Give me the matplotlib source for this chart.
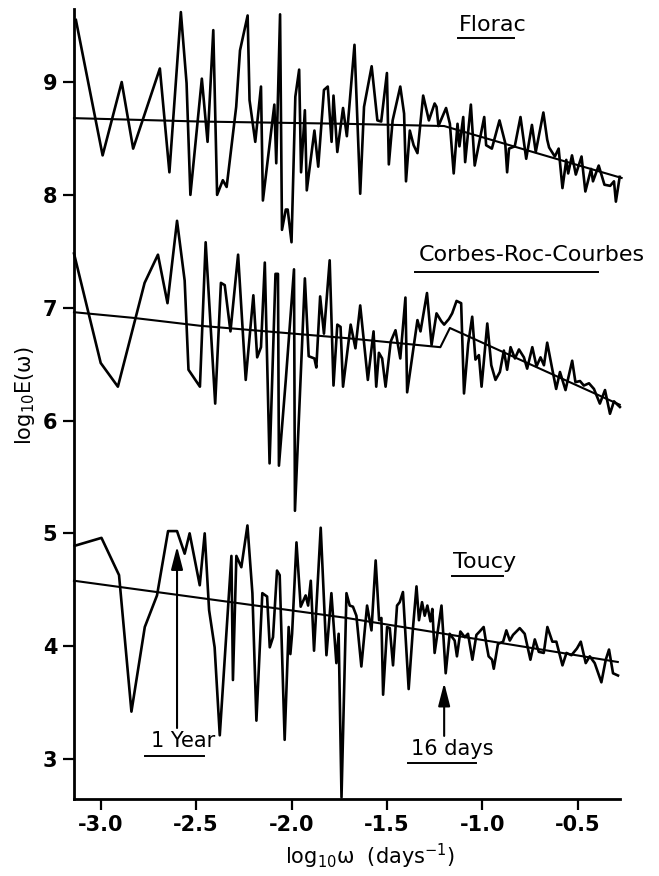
import matplotlib
matplotlib.use("Agg")
import matplotlib.pyplot as plt
from matplotlib.lines import Line2D

plt.rcParams['axes.unicode_minus'] = False
plt.rcParams['font.family'] = 'DejaVu Sans'

# --- data (log10 frequency, log10 energy) ---
florac_x = [-3.13, -2.99, -2.89, -2.83, -2.69, -2.64, -2.58, -2.55, -2.53, -2.47,
            -2.44, -2.41, -2.39, -2.36, -2.34, -2.29, -2.27, -2.23, -2.22, -2.19,
            -2.16, -2.15, -2.09, -2.08, -2.06, -2.05, -2.03, -2.02, -2.00, -1.98,
            -1.96, -1.95, -1.93, -1.92, -1.88, -1.86, -1.83, -1.81, -1.79, -1.78,
            -1.76, -1.73, -1.71,
            -1.67, -1.64, -1.62, -1.58, -1.55, -1.53, -1.50, -1.49, -1.47, -1.43,
            -1.41, -1.40, -1.38, -1.36, -1.34, -1.31, -1.28, -1.25, -1.24, -1.23,
            -1.19, -1.17, -1.15, -1.13, -1.12, -1.10, -1.09, -1.06, -1.04, -0.99,
            -0.98, -0.95, -0.91, -0.88, -0.87, -0.86, -0.83, -0.80, -0.77, -0.74,
            -0.72, -0.68, -0.66, -0.65, -0.62, -0.60, -0.58, -0.56, -0.55, -0.53,
            -0.51, -0.48, -0.46, -0.43, -0.42, -0.39, -0.36, -0.33, -0.31, -0.30,
            -0.28]
florac_y = [9.55, 8.35, 9.00, 8.41, 9.12, 8.20, 9.62, 8.99, 8.00, 9.03,
            8.47, 9.46, 8.00, 8.13, 8.07, 8.78, 9.28, 9.59, 8.84, 8.47,
            8.96, 7.95, 8.80, 8.28, 9.60, 7.69, 7.87, 7.87, 7.58, 8.87,
            9.11, 8.20, 8.75, 8.04, 8.57, 8.25, 8.93, 8.96, 8.47, 8.88,
            8.38, 8.77, 8.52,
            9.33, 8.01, 8.78, 9.14, 8.66, 8.65, 9.08, 8.27, 8.66, 8.96,
            8.72, 8.12, 8.57, 8.44, 8.37, 8.88, 8.66, 8.81, 8.78, 8.61,
            8.77, 8.63, 8.19, 8.63, 8.43, 8.69, 8.29, 8.80, 8.26, 8.69,
            8.44, 8.41, 8.66, 8.46, 8.20, 8.41, 8.43, 8.69, 8.32, 8.62,
            8.38, 8.73, 8.49, 8.42, 8.34, 8.41, 8.06, 8.31, 8.19, 8.35,
            8.18, 8.34, 8.03, 8.23, 8.12, 8.26, 8.09, 8.08, 8.12, 7.94,
            8.16]
florac_fit_x = [-3.14, -2.48, -1.72, -1.20, -0.27]
florac_fit_y = [8.68, 8.65, 8.63, 8.61, 8.15]

corbes_x = [-3.14, -3.00, -2.91, -2.77, -2.70, -2.65, -2.60, -2.56, -2.54, -2.48,
            -2.45, -2.40, -2.37, -2.35, -2.32, -2.28, -2.24, -2.20, -2.18, -2.16,
            -2.14, -2.115, -2.084, -2.071, -2.066, -2.03, -1.987, -1.982, -1.93, -1.91,
            -1.88, -1.87, -1.85, -1.83, -1.80, -1.78, -1.76, -1.743, -1.73,
            -1.69, -1.665, -1.64, -1.60, -1.57, -1.556, -1.542, -1.525, -1.507, -1.48,
            -1.455, -1.43, -1.403, -1.394, -1.34, -1.324, -1.29, -1.266, -1.24, -1.215,
            -1.20, -1.175, -1.158, -1.135, -1.111, -1.096, -1.074, -1.053, -1.036, -1.018,
            -1.004, -0.974, -0.953, -0.931, -0.908, -0.887, -0.870, -0.852, -0.829, -0.808,
            -0.782, -0.765, -0.738, -0.716, -0.695, -0.677, -0.660, -0.634, -0.613, -0.593,
            -0.564, -0.529, -0.512, -0.488, -0.468, -0.441, -0.415, -0.384, -0.357, -0.331,
            -0.310, -0.279]
corbes_y = [7.48, 6.51, 6.30, 7.22, 7.47, 7.04, 7.77, 7.24, 6.45, 6.30,
            7.58, 6.15, 7.22, 7.20, 6.79, 7.47, 6.36, 7.11, 6.56, 6.65,
            7.40, 5.62, 7.30, 7.30, 5.60, 6.36, 7.34, 5.20, 7.26, 6.57,
            6.55, 6.47, 7.10, 6.77, 7.42, 6.31, 6.85, 6.83, 6.30,
            6.85, 6.64, 7.02, 6.36, 6.79, 6.30, 6.60, 6.55, 6.30, 6.70,
            6.80, 6.55, 7.09, 6.25, 6.89, 6.79, 7.13, 6.67, 6.95, 6.88,
            6.85, 6.90, 6.95, 7.06, 7.04, 6.24, 6.68, 6.92, 6.54, 6.58,
            6.30, 6.86, 6.49, 6.36, 6.43, 6.62, 6.45, 6.65, 6.55, 6.63,
            6.56, 6.46, 6.65, 6.48, 6.56, 6.49, 6.69, 6.46, 6.28, 6.43,
            6.27, 6.53, 6.34, 6.35, 6.31, 6.33, 6.28, 6.15, 6.27, 6.06,
            6.17, 6.12]
corbes_fit_x = [-3.14, -2.83, -2.48, -2.13, -1.71, -1.22, -1.17, -0.28]
corbes_fit_y = [6.96, 6.91, 6.84, 6.79, 6.73, 6.65, 6.82, 6.14]

toucy_x = [-3.136, -2.996, -2.904, -2.839, -2.769, -2.705, -2.647, -2.600, -2.560, -2.534,
           -2.481, -2.455, -2.432, -2.403, -2.376, -2.345, -2.315, -2.307, -2.289, -2.263,
           -2.231, -2.205, -2.184, -2.153, -2.128, -2.114, -2.097, -2.076, -2.062, -2.036,
           -2.015, -2.006, -1.997, -1.974, -1.952, -1.926, -1.913, -1.899, -1.882, -1.847,
           -1.817, -1.791, -1.765, -1.753, -1.738, -1.712,
           -1.695, -1.678, -1.660, -1.634, -1.604, -1.581, -1.559, -1.541, -1.529, -1.520,
           -1.499, -1.485, -1.468, -1.447, -1.433, -1.416, -1.386, -1.363, -1.345, -1.332,
           -1.316, -1.302, -1.288, -1.272, -1.262, -1.250, -1.214, -1.192, -1.171, -1.145,
           -1.133, -1.115, -1.092, -1.075, -1.052, -1.031, -1.014, -0.993, -0.979, -0.967,
           -0.949, -0.940, -0.918, -0.891, -0.874, -0.856, -0.839, -0.804, -0.778, -0.748,
           -0.725, -0.704, -0.678, -0.659, -0.633, -0.612, -0.580, -0.559, -0.533, -0.504,
           -0.484, -0.458, -0.437, -0.411, -0.376, -0.353, -0.336, -0.315, -0.289]
toucy_y = [4.89, 4.96, 4.63, 3.42, 4.17, 4.45, 5.02, 5.02, 4.82, 5.00,
           4.54, 5.00, 4.32, 3.99, 3.21, 4.02, 4.80, 3.70, 4.80, 4.70,
           5.07, 4.47, 3.34, 4.47, 4.44, 3.99, 4.08, 4.67, 4.63, 3.17,
           4.17, 3.93, 4.11, 4.92, 4.35, 4.45, 4.36, 4.58, 3.96, 5.05,
           3.92, 4.47, 3.85, 4.11, 2.66, 4.47,
           4.36, 4.35, 4.27, 3.82, 4.36, 4.14, 4.76, 4.23, 4.25, 3.57,
           4.17, 4.16, 3.83, 4.36, 4.39, 4.48, 3.62, 4.17, 4.53, 4.23,
           4.39, 4.27, 4.36, 4.22, 4.33, 3.94, 4.36, 3.76, 4.11, 4.05,
           3.91, 4.13, 4.08, 4.11, 3.88, 4.10, 4.13, 4.17, 4.02, 3.91,
           3.88, 3.80, 4.02, 4.04, 4.14, 4.05, 4.10, 4.16, 4.11, 3.88,
           4.06, 3.95, 3.94, 4.17, 4.04, 4.04, 3.83, 3.94, 3.92, 3.98,
           4.04, 3.85, 3.91, 3.85, 3.68, 3.88, 3.97, 3.76, 3.74]
toucy_fit_x = [-3.14, -1.71, -0.29]
toucy_fit_y = [4.58, 4.25, 3.86]

station_names = ["Florac", "Corbes-Roc-Courbes", "Toucy"]
x_ticks = [-3.0, -2.5, -2.0, -1.5, -1.0, -0.5]
y_ticks = [3, 4, 5, 6, 7, 8, 9]

W, H = 659, 876
fig = plt.figure(figsize=(W / 100, H / 100), dpi=100)
ax = fig.add_axes([74 / W, (H - 798.5) / H, 545.7 / W, 789.8 / H])

for xs, ys in [(florac_x, florac_y), (corbes_x, corbes_y), (toucy_x, toucy_y)]:
    ax.plot(xs, ys, color='black', lw=1.9, clip_on=False)
for xs, ys in [(florac_fit_x, florac_fit_y), (corbes_fit_x, corbes_fit_y),
               (toucy_fit_x, toucy_fit_y)]:
    ax.plot(xs, ys, color='black', lw=1.5, clip_on=False)

ax.set_xlim(-3.14, -0.28)
ax.set_ylim(2.65, 9.65)
ax.set_xticks(x_ticks)
ax.set_xticklabels(["%.1f" % v for v in x_ticks])
ax.set_yticks(y_ticks)
ax.spines['top'].set_visible(False)
ax.spines['right'].set_visible(False)
ax.spines['left'].set_linewidth(2.0)
ax.spines['bottom'].set_linewidth(2.0)
ax.tick_params(direction='out', length=8, width=1.6, labelsize=15, pad=4)
for lab in ax.get_xticklabels() + ax.get_yticklabels():
    lab.set_fontweight('bold')


def fx(px):
    return px / W


def fy(py):
    return 1 - py / H


# station names with underlines
name_pos = [(493, 25, 458, 514, 38), (532, 255, 415, 598, 272), (485, 562, 452, 503, 576)]
for name, (cx, cy, u0, u1, uy) in zip(station_names, name_pos):
    fig.text(fx(cx), fy(cy), name, fontsize=16, ha='center', va='center')
    fig.add_artist(Line2D([fx(u0), fx(u1)], [fy(uy), fy(uy)], color='black', lw=1.4))

# period markers
ax.annotate('', xy=(-2.60, 4.91), xytext=(-2.60, 3.25),
            arrowprops=dict(arrowstyle='-|>,head_length=0.7,head_width=0.18',
                            lw=1.5, color='black', mutation_scale=20))
ax.annotate('', xy=(-1.20, 3.70), xytext=(-1.20, 3.18),
            arrowprops=dict(arrowstyle='-|>,head_length=0.7,head_width=0.18',
                            lw=1.5, color='black', mutation_scale=20))
fig.text(fx(183), fy(741), '1 Year', fontsize=15, ha='center', va='center')
fig.add_artist(Line2D([fx(145), fx(204)], [fy(756), fy(756)], color='black', lw=1.4))
fig.text(fx(452), fy(749), '16 days', fontsize=15, ha='center', va='center')
fig.add_artist(Line2D([fx(408), fx(476)], [fy(763), fy(763)], color='black', lw=1.4))

# axis labels
fig.text(fx(25), fy(396), r'log$_{10}$E(ω)', fontsize=15, rotation=90,
         ha='center', va='center')
fig.text(fx(370), fy(856), r'log$_{10}$ω  (days$^{-1}$)', fontsize=15,
         ha='center', va='center')

fig.savefig('out.png', dpi=100)
